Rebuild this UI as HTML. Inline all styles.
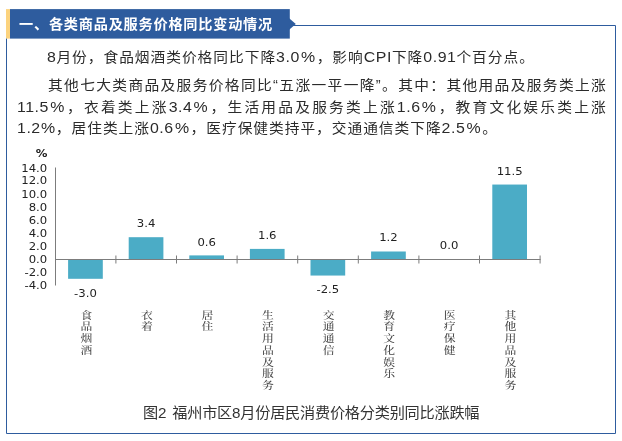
<!DOCTYPE html>
<html lang="zh-CN">
<head>
<meta charset="utf-8">
<title>各类商品及服务价格同比变动情况</title>
<style>
html,body{margin:0;padding:0;background:#fff;}
body{width:622px;height:441px;position:relative;overflow:hidden;font-family:"Liberation Sans","Noto Sans CJK SC",sans-serif;}
.hdr{position:absolute;left:10px;top:9px;width:279.5px;height:29.5px;z-index:2;}
.hdr span{position:absolute;left:9px;top:1.3px;line-height:29.5px;color:#fff;font-weight:bold;font-size:14.2px;white-space:nowrap;letter-spacing:0.75px;}
.ln{position:absolute;left:16.5px;height:22px;line-height:22px;font-size:13.9px;letter-spacing:0.911px;color:#2b2b2b;white-space:nowrap;transform:scaleX(1.06);transform-origin:0 0;}
.n{font-size:15px;letter-spacing:0.518px;}
.n i{font-style:normal;margin:0 0.92px 0 1.11px;}
.j{width:556.42px;text-align:justify;text-align-last:justify;white-space:normal;}
.cap{position:absolute;left:143px;top:402.3px;height:22px;line-height:22px;font-size:15.2px;letter-spacing:-0.25px;word-spacing:2.2px;color:#333;white-space:nowrap;}
svg{position:absolute;left:0;top:0;}
.num{font-family:"DejaVu Sans",sans-serif;font-size:9.8px;fill:#222;}
.cat{font-family:"Noto Serif CJK SC","Liberation Serif",serif;font-size:10.2px;font-weight:500;fill:#484848;}
</style>
</head>
<body>
<div class="hdr"><span>一、各类商品及服务价格同比变动情况</span></div>

<div class="ln" style="top:45.5px;left:47.1px;"><span class="n">8</span>月份，食品烟酒类价格同比下降<span class="n">3.0<i>%</i></span>，影响<span class="n">CPI</span>下降<span class="n">0.91</span>个百分点。</div>
<div class="ln j" style="top:74px;left:47.5px;width:527.17px;">其他七大类商品及服务价格同比“五涨一平一降”。其中：其他用品及服务类上涨</div>
<div class="ln j" style="top:96px;"><span class="n">11.5<i>%</i></span>，衣着类上涨<span class="n">3.4<i>%</i></span>，生活用品及服务类上涨<span class="n">1.6<i>%</i></span>，教育文化娱乐类上涨</div>
<div class="ln" style="top:117.4px;"><span class="n">1.2<i style="margin:0 0.2px 0 0.2px">%</i></span>，居住类上涨<span class="n">0.6<i>%</i></span>，医疗保健类持平，交通通信类下降<span class="n">2.5<i>%</i></span>。</div>

<svg width="622" height="441" viewBox="0 0 622 441">
  <rect x="6" y="9.1" width="4" height="29.5" fill="#fcd37e"/>
  <rect x="10" y="9.1" width="279.8" height="29.5" fill="#2e5c9e"/>
  <polygon points="288,17.2 295.8,23.95 288,30.7" fill="#2e5c9e"/>
  <path d="M289.8 25.5H615.5V433.5H6.5V38.6" fill="none" stroke="#2e5c9e" stroke-width="1"/>
  <g fill="#4bacc6">
    <rect x="68.10" y="259.30" width="34.7" height="19.50"/>
    <rect x="128.70" y="237.20" width="34.7" height="22.10"/>
    <rect x="189.30" y="255.40" width="34.7" height="3.90"/>
    <rect x="249.90" y="248.90" width="34.7" height="10.40"/>
    <rect x="310.50" y="259.30" width="34.7" height="16.25"/>
    <rect x="371.10" y="251.50" width="34.7" height="7.80"/>
    <rect x="492.30" y="184.55" width="34.7" height="74.75"/>
  </g>
  <g stroke="#7c7c7c" stroke-width="1" fill="none">
    <path d="M55.5 167.5V285.5"/>
    <path d="M55 259.5H540.6"/>
    <path d="M115.9 255.5v8M176.5 255.5v8M237.1 255.5v8M297.7 255.5v8M358.3 255.5v8M418.9 255.5v8M479.5 255.5v8M540.1 255.5v8"/>
  </g>
  <g class="num" text-anchor="end">
    <text transform="translate(47.2 171.7) scale(1.19 1)">14.0</text>
    <text transform="translate(47.2 184.4) scale(1.19 1)">12.0</text>
    <text transform="translate(47.2 197.7) scale(1.19 1)">10.0</text>
    <text transform="translate(47.2 210.7) scale(1.19 1)">8.0</text>
    <text transform="translate(47.2 223.7) scale(1.19 1)">6.0</text>
    <text transform="translate(47.2 237) scale(1.19 1)">4.0</text>
    <text transform="translate(47.2 250) scale(1.19 1)">2.0</text>
    <text transform="translate(47.2 263) scale(1.19 1)">0.0</text>
    <text transform="translate(47.2 276) scale(1.19 1)">-2.0</text>
    <text transform="translate(47.2 289) scale(1.19 1)">-4.0</text>
  </g>
  <text class="num" font-weight="bold" text-anchor="middle" transform="translate(41.5 156.5) scale(1.19 1)">%</text>
  <g class="num" text-anchor="middle">
    <text transform="translate(85.45 297) scale(1.19 1)">-3.0</text>
    <text transform="translate(146.05 227) scale(1.19 1)">3.4</text>
    <text transform="translate(206.65 245.7) scale(1.19 1)">0.6</text>
    <text transform="translate(267.25 238.5) scale(1.19 1)">1.6</text>
    <text transform="translate(327.85 292.9) scale(1.19 1)">-2.5</text>
    <text transform="translate(388.45 241) scale(1.19 1)">1.2</text>
    <text transform="translate(449.05 249) scale(1.19 1)">0.0</text>
    <text transform="translate(509.65 174.5) scale(1.19 1)">11.5</text>
  </g>
  <g class="cat" text-anchor="middle">
    <text transform="translate(86.30 318.7) scale(1.16 1)"><tspan x="0" y="0.00">食</tspan><tspan x="0" y="11.75">品</tspan><tspan x="0" y="23.50">烟</tspan><tspan x="0" y="35.25">酒</tspan></text>
    <text transform="translate(146.87 318.7) scale(1.16 1)"><tspan x="0" y="0.00">衣</tspan><tspan x="0" y="11.75">着</tspan></text>
    <text transform="translate(207.44 318.7) scale(1.16 1)"><tspan x="0" y="0.00">居</tspan><tspan x="0" y="11.75">住</tspan></text>
    <text transform="translate(268.01 318.7) scale(1.16 1)"><tspan x="0" y="0.00">生</tspan><tspan x="0" y="11.75">活</tspan><tspan x="0" y="23.50">用</tspan><tspan x="0" y="35.25">品</tspan><tspan x="0" y="47.00">及</tspan><tspan x="0" y="58.75">服</tspan><tspan x="0" y="70.50">务</tspan></text>
    <text transform="translate(328.58 318.7) scale(1.16 1)"><tspan x="0" y="0.00">交</tspan><tspan x="0" y="11.75">通</tspan><tspan x="0" y="23.50">通</tspan><tspan x="0" y="35.25">信</tspan></text>
    <text transform="translate(389.15 318.7) scale(1.16 1)"><tspan x="0" y="0.00">教</tspan><tspan x="0" y="11.75">育</tspan><tspan x="0" y="23.50">文</tspan><tspan x="0" y="35.25">化</tspan><tspan x="0" y="47.00">娱</tspan><tspan x="0" y="58.75">乐</tspan></text>
    <text transform="translate(449.72 318.7) scale(1.16 1)"><tspan x="0" y="0.00">医</tspan><tspan x="0" y="11.75">疗</tspan><tspan x="0" y="23.50">保</tspan><tspan x="0" y="35.25">健</tspan></text>
    <text transform="translate(510.29 318.7) scale(1.16 1)"><tspan x="0" y="0.00">其</tspan><tspan x="0" y="11.75">他</tspan><tspan x="0" y="23.50">用</tspan><tspan x="0" y="35.25">品</tspan><tspan x="0" y="47.00">及</tspan><tspan x="0" y="58.75">服</tspan><tspan x="0" y="70.50">务</tspan></text>
  </g>
</svg>
<div class="cap">图2 福州市区8月份居民消费价格分类别同比涨跌幅</div>
</body>
</html>
